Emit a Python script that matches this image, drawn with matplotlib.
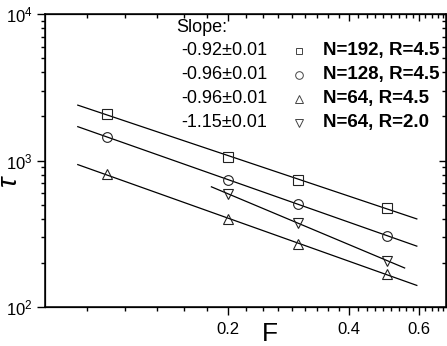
import numpy as np
import matplotlib
matplotlib.use("Agg")
import matplotlib.pyplot as plt
from matplotlib.ticker import FixedLocator, FixedFormatter, LogLocator, NullFormatter

plt.rcParams["font.family"] = ["Liberation Sans", "DejaVu Sans"]
plt.rcParams["mathtext.fontset"] = "custom"
plt.rcParams["mathtext.rm"] = "Liberation Sans"
plt.rcParams["mathtext.it"] = "Liberation Sans:italic"
plt.rcParams["mathtext.bf"] = "Liberation Sans:bold"

# data
F = [0.1, 0.2, 0.3, 0.5]
tau_192 = [2075, 1062, 736, 474]
tau_128 = [1452, 736, 502, 307]
tau_64 = [805, 399, 269, 168]
F_64r2 = [0.2, 0.3, 0.5]
tau_64r2 = [590, 376, 206]

slopes = ["-0.92\u00b10.01", "-0.96\u00b10.01", "-0.96\u00b10.01", "-1.15\u00b10.01"]
labels = ["N=192, R=4.5", "N=128, R=4.5", "N=64, R=4.5", "N=64, R=2.0"]
markers = ["s", "o", "^", "v"]
key_ms = [5, 5.5, 6, 6]
# extent of each fitted line along F
fit_range = [(0.0845, 0.592), (0.0845, 0.592), (0.0845, 0.592), (0.182, 0.552)]

series = [(F, tau_192), (F, tau_128), (F, tau_64), (F_64r2, tau_64r2)]

fig = plt.figure(figsize=(4.47, 3.46), dpi=100)
ax = fig.add_axes([45 / 447, 1 - 307 / 346, 401 / 447, 293 / 346])
ax.set_xscale("log")
ax.set_yscale("log")
ax.set_xlim(0.07, 0.7)
ax.set_ylim(100, 10000)

for (x, y), m, (f0, f1) in zip(series, markers, fit_range):
    p = np.polyfit(np.log10(x), np.log10(y), 1)
    xf = np.array([f0, f1])
    ax.plot(xf, 10 ** np.polyval(p, np.log10(xf)), color="black", lw=0.9, zorder=2)
    ax.plot(x, y, ls="none", marker=m, ms=7, mfc="none", mec="#222222",
            mew=0.8, zorder=3)

# key: slope, marker, run
ys = [0.874, 0.792, 0.710, 0.628]
ax.text(0.327, 0.955, "Slope:", transform=ax.transAxes, fontsize=13,
        va="center")
for yy, s, m, ms, lab in zip(ys, slopes, markers, key_ms, labels):
    ax.text(0.339, yy, s, transform=ax.transAxes, fontsize=13, va="center")
    ax.plot([0.633], [yy], transform=ax.transAxes, marker=m, ms=ms, mfc="none",
            mec="#444444", mew=0.7, ls="none", clip_on=False)
    ax.text(0.693, yy, lab, transform=ax.transAxes, fontsize=13.5,
            fontweight="bold", va="center")

# x ticks
ax.xaxis.set_major_locator(FixedLocator([0.2, 0.4, 0.6]))
ax.xaxis.set_major_formatter(FixedFormatter(["0.2", "0.4", "0.6"]))
minor_x = [k * 0.2 / 9 for k in range(1, 32) if k % 9 != 0]
ax.xaxis.set_minor_locator(FixedLocator(minor_x))
ax.xaxis.set_minor_formatter(NullFormatter())
ax.yaxis.set_major_locator(LogLocator(base=10, numticks=10))
ax.yaxis.set_minor_locator(LogLocator(base=10, subs=np.arange(2, 10), numticks=10))
ax.yaxis.set_minor_formatter(NullFormatter())

ax.tick_params(which="both", direction="out", labelsize=12, width=1.0)
ax.tick_params(which="major", length=6, pad=3)
ax.tick_params(which="minor", length=3)
ax.tick_params(axis="x", which="major", pad=5)
for sp in ax.spines.values():
    sp.set_linewidth(1.1)

# mirrored axes on top and right, ticks pointing in
axt = ax.twiny()
axt.set_xscale("log")
axt.set_xlim(ax.get_xlim())
axt.xaxis.set_major_locator(FixedLocator([0.2, 0.4, 0.6]))
axt.xaxis.set_minor_locator(FixedLocator(minor_x))
axt.tick_params(which="both", direction="in", labeltop=False, width=1.0)
axt.tick_params(which="major", length=5)
axt.tick_params(which="minor", length=3)
axr = ax.twinx()
axr.set_yscale("log")
axr.set_ylim(ax.get_ylim())
axr.yaxis.set_minor_locator(LogLocator(base=10, subs=np.arange(2, 10), numticks=10))
axr.tick_params(which="both", direction="in", labelright=False, width=1.0)
axr.tick_params(which="major", length=5)
axr.tick_params(which="minor", length=3)

ax.set_xlabel("F", fontsize=19)
ax.xaxis.set_label_coords(0.56, -0.05)
fig.text(10 / 447, 1 - 181 / 346, r"$\tau$", fontsize=20, rotation=90,
         ha="center", va="center")

fig.savefig("out.png", dpi=100)
